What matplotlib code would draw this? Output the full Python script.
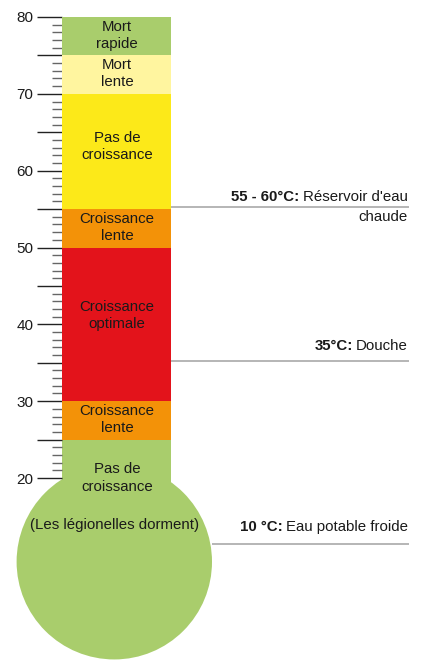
import matplotlib
matplotlib.use("Agg")
import matplotlib.pyplot as plt
from matplotlib.patches import Rectangle, Ellipse
from matplotlib.ticker import FixedLocator, FuncFormatter

plt.rcParams['font.family'] = ['Liberation Sans', 'DejaVu Sans']

# ---- data ----
band_low = [25, 30, 50, 55, 70, 75]
band_high = [30, 50, 55, 70, 75, 80]
band_labels = ["Croissance\nlente", "Croissance\noptimale", "Croissance\nlente",
               "Pas de\ncroissance", "Mort\nlente", "Mort\nrapide"]
band_label_y = [27.6, 41.2, 52.6, 63.2, 72.6, 77.6]
band_colors = ["#F39208", "#E3131B", "#F39208", "#FCE919", "#FFF59F", "#A9CD6C"]
bulb_color = "#A9CD6C"
bulb_center = 9.1
bulb_labels = ["Pas de\ncroissance", "(Les légionelles dorment)"]
bulb_label_y = [20.0, 13.9]

ref_temps = [55.3, 35.2, 11.4]
ref_bold = ["55 - 60°C:", "35°C:", "10 °C:"]
ref_text = ["Réservoir d'eau", "Douche", "Eau potable froide"]
ref_extra = ["chaude", "", ""]

major_ticks = list(range(20, 81, 5))
minor_ticks = [t for t in range(20, 81) if t % 5 != 0]

# ---- layout ----
W, H = 424, 662
fig = plt.figure(figsize=(W / 100, H / 100), dpi=100)
ax = fig.add_axes([0, 0, 1, 1])
ppu = (478 - 17) / 60.0  # pixels per degree
ytop = 80 + 17 / ppu
ybot = 80 - (H - 17) / ppu
ax.set_xlim(0, W)
ax.set_ylim(ybot, ytop)

col_x0, col_x1 = 62, 171
col_w = col_x1 - col_x0
cx = (col_x0 + col_x1) / 2 + 0.5

FS = 10.8
TXT = '#1a1a1a'

# bulb
rad = 97.7
ax.add_patch(Ellipse((114.3, bulb_center), 2 * rad, 2 * rad / ppu, color=bulb_color, lw=0, zorder=1))
ax.add_patch(Rectangle((col_x0, bulb_center), col_w, 25 - bulb_center, color=bulb_color, lw=0, zorder=1))

for lo, hi, c in zip(band_low, band_high, band_colors):
    ax.add_patch(Rectangle((col_x0, lo), col_w, hi - lo, color=c, lw=0, zorder=2))

txt_kw = dict(ha='center', va='center', fontsize=FS, color=TXT, linespacing=1.28, zorder=5)
for lab, y in zip(band_labels, band_label_y):
    ax.text(cx, y, lab, **txt_kw)
ax.text(cx, bulb_label_y[0], bulb_labels[0], **txt_kw)
ax.text(114.5, bulb_label_y[1], bulb_labels[1], **txt_kw)

# reference lines
line_start = [171, 171, 212]
label_offset_px = [10, 15, 17]
for t, xs in zip(ref_temps, line_start):
    ax.plot([xs, 409], [t, t], color='#b0b0b0', lw=1.3, zorder=3, solid_capstyle='butt')

fig.canvas.draw()
renderer = fig.canvas.get_renderer()
xr = 408
for t, b, s, e, off in zip(ref_temps, ref_bold, ref_text, ref_extra, label_offset_px):
    ytxt = t + off / ppu
    tn = ax.text(xr, ytxt, s, ha='right', va='center', fontsize=FS, color=TXT)
    bb = tn.get_window_extent(renderer)
    xb, _ = ax.transData.inverted().transform((bb.x0 - 3.5, 0))
    ax.text(xb, ytxt, b, ha='right', va='center', fontsize=FS, color=TXT, fontweight='bold')
    if e:
        ax.text(xr, t - 10.0 / ppu, e, ha='right', va='center', fontsize=FS, color=TXT)

# ticks
for sp in ax.spines.values():
    sp.set_visible(False)
ax.spines['left'].set_position(('data', col_x0))
ax.xaxis.set_visible(False)
ax.yaxis.set_major_locator(FixedLocator(major_ticks))
ax.yaxis.set_minor_locator(FixedLocator(minor_ticks))
ax.yaxis.set_major_formatter(FuncFormatter(lambda v, p: f"{int(v)}" if v % 10 == 0 else ""))
ax.tick_params(axis='y', which='major', direction='out', length=18, width=1.0, color='#222222',
               labelsize=11, labelcolor=TXT, pad=2.5)
ax.tick_params(axis='y', which='minor', direction='out', length=7, width=1.0, color='#666666')
ax.set_facecolor('white')

fig.savefig("out.png", dpi=100, facecolor='white')
